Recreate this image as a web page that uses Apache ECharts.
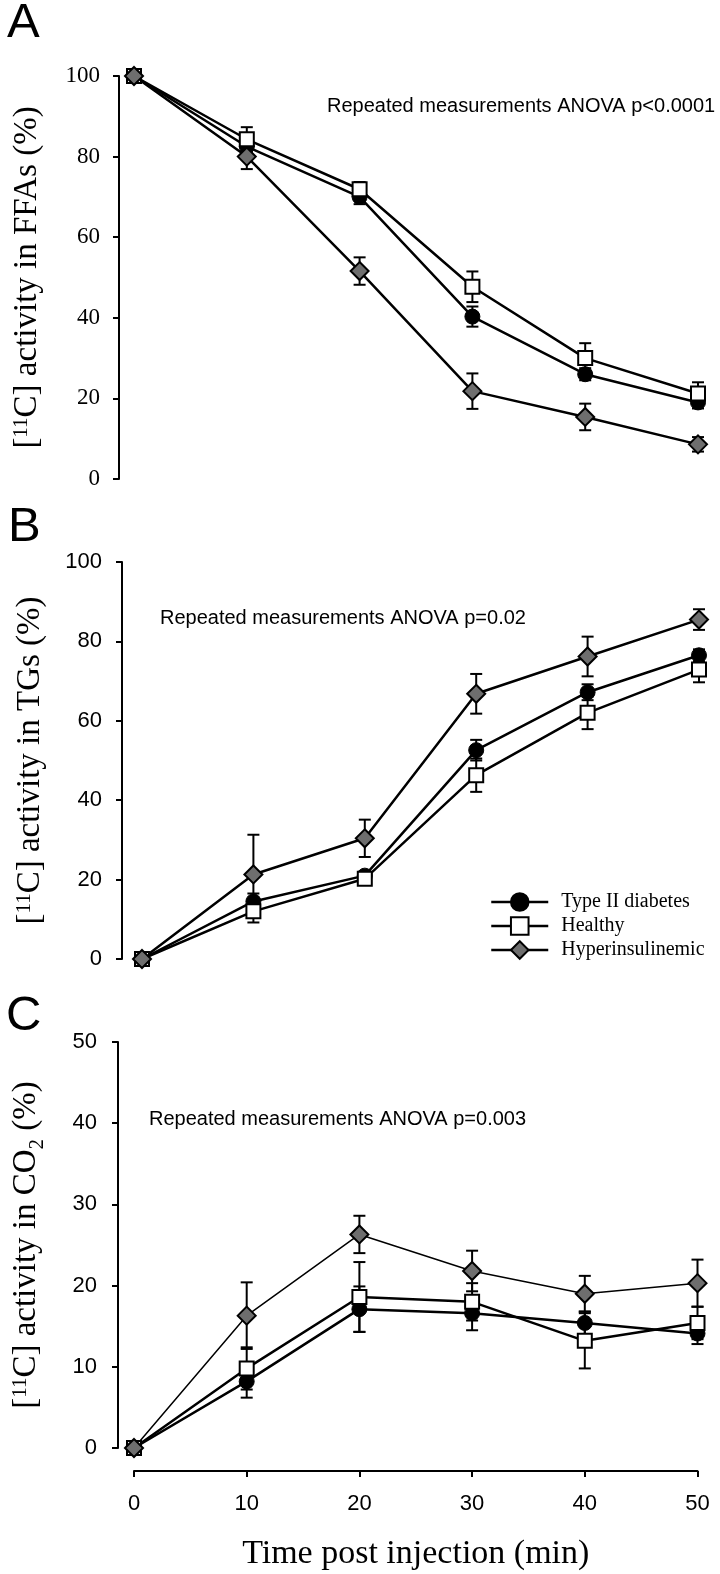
<!DOCTYPE html>
<html><head><meta charset="utf-8">
<script src="https://cdn.jsdelivr.net/npm/echarts@6/dist/echarts.min.js"></script>
<style>html,body{margin:0;padding:0;background:#fff}#c{width:720px;height:1574px}</style>
</head><body><div id="c"></div>
<script>
// ---- data ----
const timeMin = [0, 10, 20, 30, 40, 50];
const xTickLabels = ['0', '10', '20', '30', '40', '50'];
const seriesNames = ['Type II diabetes', 'Healthy', 'Hyperinsulinemic'];

const ffaDiabetes   = [100, 82.5, 70.0, 40.3, 26.0, 19.0];
const ffaDiabetesSE = [0, 1.5, 1.8, 2.5, 1.5, 1.5];
const ffaHealthy    = [100, 84.3, 71.9, 47.7, 30.0, 21.2];
const ffaHealthySE  = [0, 3.0, 1.8, 3.8, 3.7, 2.8];
const ffaHyper      = [100, 80.0, 51.6, 21.8, 15.4, 8.6];
const ffaHyperSE    = [0, 3.1, 3.4, 4.4, 3.3, 1.8];

const tgDiabetes   = [0, 14.5, 21.0, 52.6, 67.2, 76.5];
const tgDiabetesSE = [0, 2.0, 1.0, 2.6, 2.0, 1.5];
const tgHealthy    = [0, 12.0, 20.2, 46.3, 62.0, 72.9];
const tgHealthySE  = [0, 2.8, 1.2, 4.2, 4.1, 3.2];
const tgHyper      = [0, 21.3, 30.4, 66.8, 76.2, 85.5];
const tgHyperSE    = [0, 10.0, 4.7, 5.0, 5.0, 2.6];

const co2Diabetes   = [0, 8.2, 17.1, 16.6, 15.4, 14.1];
const co2DiabetesSE = [0, 2.0, 2.8, 2.1, 1.4, 1.3];
const co2Healthy    = [0, 9.8, 18.6, 18.0, 13.2, 15.4];
const co2HealthySE  = [0, 2.6, 4.3, 2.3, 3.4, 2.0];
const co2Hyper      = [0, 16.3, 26.3, 21.8, 19.0, 20.3];
const co2HyperSE    = [0, 4.1, 2.3, 2.5, 2.2, 2.9];

const yTicksFFA = [0, 20, 40, 60, 80, 100];
const yTicksTG = [0, 20, 40, 60, 80, 100];
const yTicksCO2 = [0, 10, 20, 30, 40, 50];

const annotations = [
  'Repeated measurements ANOVA p<0.0001',
  'Repeated measurements ANOVA p=0.02',
  'Repeated measurements ANOVA p=0.003'
];
const panelLetters = ['A', 'B', 'C'];

// ---- styles ----
const SERIF = "'Liberation Serif', 'Times New Roman', serif";
const SANS = "'Liberation Sans', Arial, sans-serif";
const symbolStyles = [
  { symbol: 'circle', symbolSize: 15, itemStyle: { color: '#000', borderColor: '#000', borderWidth: 1 } },
  { symbol: 'rect', symbolSize: 14, itemStyle: { color: '#fff', borderColor: '#000', borderWidth: 2 } },
  { symbol: 'diamond', symbolSize: 18, itemStyle: { color: '#6e6e6e', borderColor: '#000', borderWidth: 2 } }
];

function pairs(vals) { return timeMin.map((t, i) => [t, vals[i]]); }
function triples(vals, se) { return timeMin.map((t, i) => [t, vals[i], se[i]]); }

function errRender(params, api) {
  const x = api.value(0), y = api.value(1), e = api.value(2);
  if (!e) return null;
  const top = api.coord([x, y + e]);
  const bot = api.coord([x, y - e]);
  const hw = 6;
  const st = { stroke: '#000', lineWidth: 2 };
  return {
    type: 'group', children: [
      { type: 'line', shape: { x1: top[0], y1: top[1], x2: bot[0], y2: bot[1] }, style: st },
      { type: 'line', shape: { x1: top[0] - hw, y1: top[1], x2: top[0] + hw, y2: top[1] }, style: st },
      { type: 'line', shape: { x1: bot[0] - hw, y1: bot[1], x2: bot[0] + hw, y2: bot[1] }, style: st }
    ]
  };
}

const panels = [
  { vals: [ffaDiabetes, ffaHealthy, ffaHyper], se: [ffaDiabetesSE, ffaHealthySE, ffaHyperSE], widths: [2.5, 2.5, 2.5] },
  { vals: [tgDiabetes, tgHealthy, tgHyper], se: [tgDiabetesSE, tgHealthySE, tgHyperSE], widths: [2.5, 2.5, 2.5] },
  { vals: [co2Diabetes, co2Healthy, co2Hyper], se: [co2DiabetesSE, co2HealthySE, co2HyperSE], widths: [2.5, 2.5, 1.5] }
];

const series = [];
panels.forEach((p, gi) => {
  p.vals.forEach((v, si) => {
    series.push({
      type: 'custom', xAxisIndex: gi, yAxisIndex: gi, z: 2,
      renderItem: errRender, data: triples(v, p.se[si]), silent: true
    });
  });
  p.vals.forEach((v, si) => {
    series.push(Object.assign({
      name: seriesNames[si], type: 'line', xAxisIndex: gi, yAxisIndex: gi, z: 3,
      data: pairs(v),
      lineStyle: { color: '#000', width: p.widths[si] },
      emphasis: { disabled: true }
    }, symbolStyles[si]));
  });
});

const axisLineStyle = { show: true, onZero: false, lineStyle: { color: '#000', width: 2 } };
const axisTickStyle = { show: true, inside: false, length: 6, lineStyle: { color: '#000', width: 2 } };

function yAxis(gi, max, interval, name, font, size, margin, offset) {
  return {
    type: 'value', gridIndex: gi, min: 0, max: max, interval: interval, offset: offset,
    axisLine: axisLineStyle, axisTick: axisTickStyle, splitLine: { show: false },
    axisLabel: { color: '#000', fontFamily: font, fontSize: size, margin: margin },
    name: name, nameLocation: 'middle', nameRotate: 90, nameGap: 70,
    nameTextStyle: {
      color: '#000', fontFamily: SERIF, fontSize: 33,
      rich: {
        n: { fontFamily: SERIF, fontSize: 33, color: '#000', padding: [0, 0, 5, 0] },
        s: { fontFamily: SERIF, fontSize: 21, color: '#000', verticalAlign: 'top' },
        b: { fontFamily: SERIF, fontSize: 21, color: '#000', verticalAlign: 'bottom' }
      }
    }
  };
}

const option = {
  animation: false,
  backgroundColor: '#fff',
  grid: [
    { left: 134, top: 76, width: 564, height: 403 },
    { left: 142, top: 562, width: 557, height: 397 },
    { left: 134, top: 1042, width: 563.5, height: 406 }
  ],
  xAxis: [
    { type: 'value', gridIndex: 0, min: 0, max: 50, interval: 10, show: false },
    { type: 'value', gridIndex: 1, min: 0, max: 50, interval: 10, show: false },
    {
      type: 'value', gridIndex: 2, min: 0, max: 50, interval: 10, offset: 23,
      axisLine: axisLineStyle, axisTick: axisTickStyle, splitLine: { show: false },
      axisLabel: { color: '#000', fontFamily: SANS, fontSize: 22, margin: 22,
        formatter: v => xTickLabels[timeMin.indexOf(v)] },
      name: 'Time post injection (min)', nameLocation: 'middle', nameGap: 66,
      nameTextStyle: { color: '#000', fontFamily: SERIF, fontSize: 34 }
    }
  ],
  yAxis: [
    yAxis(0, yTicksFFA[yTicksFFA.length - 1], yTicksFFA[1] - yTicksFFA[0], '{n|[}{s|11}{n|C] activity in FFAs (%)}', SERIF, 23, 19, 15),
    yAxis(1, yTicksTG[yTicksTG.length - 1], yTicksTG[1] - yTicksTG[0], '{n|[}{s|11}{n|C] activity in TGs (%)}', SANS, 22, 20, 20),
    yAxis(2, yTicksCO2[yTicksCO2.length - 1], yTicksCO2[1] - yTicksCO2[0], '{n|[}{s|11}{n|C] activity in CO}{b|2}{n| (%)}', SANS, 22, 21, 16)
  ],
  legend: {
    data: seriesNames, orient: 'vertical', left: 485, top: 887,
    itemWidth: 57, itemHeight: 22, itemGap: 4, selectedMode: false,
    lineStyle: { color: '#000', width: 2.5 },
    textStyle: { color: '#000', fontFamily: SERIF, fontSize: 20, padding: [0, 0, 0, 8] }
  },
  graphic: [
    { type: 'text', x: 7, y: 23, style: { text: panelLetters[0], font: '49px ' + SANS, fill: '#000', verticalAlign: 'middle' } },
    { type: 'text', x: 8, y: 527, style: { text: panelLetters[1], font: '49px ' + SANS, fill: '#000', verticalAlign: 'middle' } },
    { type: 'text', x: 6, y: 1016, style: { text: panelLetters[2], font: '49px ' + SANS, fill: '#000', verticalAlign: 'middle' } },
    { type: 'text', x: 327, y: 106, style: { text: annotations[0], font: '20px ' + SANS, fill: '#000', verticalAlign: 'middle' } },
    { type: 'text', x: 160, y: 618, style: { text: annotations[1], font: '20px ' + SANS, fill: '#000', verticalAlign: 'middle' } },
    { type: 'text', x: 149, y: 1119, style: { text: annotations[2], font: '20px ' + SANS, fill: '#000', verticalAlign: 'middle' } }
  ],
  series: series
};

const chart = echarts.init(document.getElementById('c'), null, { renderer: 'canvas' });
chart.setOption(option);
</script>
</body></html>
